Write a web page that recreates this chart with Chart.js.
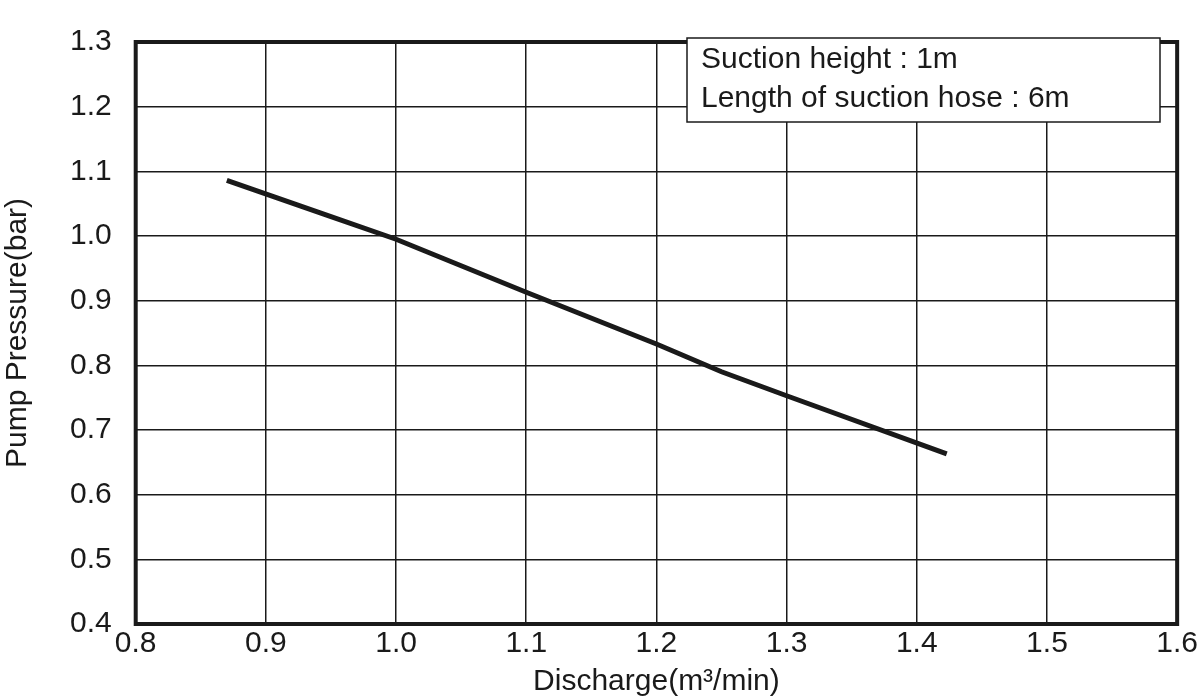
<!DOCTYPE html>
<html>
<head>
<meta charset="utf-8">
<script src="https://cdn.jsdelivr.net/npm/chart.js@4.4.0/dist/chart.umd.min.js"></script>
<style>
  html, body { margin: 0; padding: 0; background: #fff; }
  #wrap { width: 1200px; height: 700px; }
</style>
</head>
<body>
<div id="wrap"><canvas id="pumpChart"></canvas></div>
<script>
// Curve
const discharge = [0.87, 0.95, 1.0, 1.1, 1.2, 1.25, 1.3, 1.423];
const pressure = [1.086, 1.03, 0.995, 0.913, 0.833, 0.79, 0.753, 0.663];
const noteLines = ['Suction height : 1m', 'Length of suction hose : 6m'];

const FONT = 'Arial, "Liberation Sans", sans-serif';

// Thick frame + note box
const framePlugin = {
  id: 'frame',
  afterDraw(chart) {
    const { ctx, chartArea: a } = chart;
    ctx.save();
    ctx.strokeStyle = '#1a1a1a';
    ctx.lineWidth = 4;
    ctx.strokeRect(a.left, a.top, a.right - a.left, a.bottom - a.top);

    ctx.lineWidth = 1.5;
    ctx.fillStyle = '#fff';
    ctx.fillRect(687, 38, 473, 84);
    ctx.strokeRect(687, 38, 473, 84);
    ctx.fillStyle = '#1a1a1a';
    ctx.font = '30px ' + FONT;
    ctx.textBaseline = 'middle';
    ctx.fillText(noteLines[0], 701, 60);
    ctx.fillText(noteLines[1], 701, 99);
    ctx.restore();
  }
};

const ctx = document.getElementById('pumpChart').getContext('2d');
new Chart(ctx, {
  type: 'line',
  data: {
    datasets: [{
      data: discharge.map((x, i) => ({ x: x, y: pressure[i] })),
      borderColor: '#1a1a1a',
      borderWidth: 5,
      pointRadius: 0,
      tension: 0
    }]
  },
  options: {
    responsive: true,
    maintainAspectRatio: false,
    animation: false,
    layout: { padding: { top: 2, right: 20, left: 0, bottom: 0 } },
    plugins: { legend: { display: false }, tooltip: { enabled: false } },
    scales: {
      x: {
        type: 'linear',
        min: 0.8, max: 1.6,
        ticks: { stepSize: 0.1, color: '#1a1a1a', font: { size: 30, family: FONT }, padding: 2,
          callback: v => v.toFixed(1) },
        grid: { color: '#1a1a1a', lineWidth: 1.5, drawTicks: false },
        border: { display: false },
        title: { display: true, text: 'Discharge(m³/min)', color: '#1a1a1a',
          font: { size: 30, family: FONT }, padding: { top: 0, bottom: 0 } }
      },
      y: {
        min: 0.4, max: 1.3,
        ticks: { stepSize: 0.1, color: '#1a1a1a', font: { size: 30, family: FONT }, padding: 24,
          callback: v => v.toFixed(1) },
        grid: { color: '#1a1a1a', lineWidth: 1.5, drawTicks: false },
        border: { display: false },
        title: { display: true, text: 'Pump Pressure(bar)', color: '#1a1a1a',
          font: { size: 30, family: FONT }, padding: { top: 0, bottom: 10 } }
      }
    }
  },
  plugins: [framePlugin]
});
</script>
</body>
</html>
